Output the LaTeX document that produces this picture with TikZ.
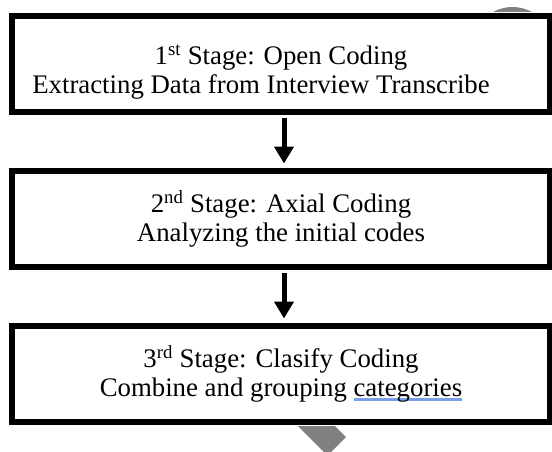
\documentclass[tikz,border=0pt]{standalone}
\usepackage{fontspec}
\setmainfont{Liberation Serif}
\usetikzlibrary{arrows.meta,positioning}
\definecolor{spellblue}{RGB}{120,160,230}
\newsavebox\markbox
\newcommand\spellmark[1]{\sbox\markbox{#1}\rlap{\textcolor{spellblue}{\rule[-5pt]{\wd\markbox}{3pt}}}\usebox\markbox}
\tikzstyle{stagebox} = [rectangle, minimum width=538pt, minimum height=96pt, align=center, draw=black, line width=6pt, fill=white, font=\fontsize{26.8}{29}\selectfont]

\begin{document}
\begin{tikzpicture}[x=1pt, y=-1pt, node distance=53pt]
    \tikzset{flowarrow/.style={line width=5pt, -{Triangle[width=19pt,length=17pt]}, shorten <=3pt, shorten >=4pt}}
    \useasboundingbox (0,0) rectangle (552,451);
    % grey shapes behind the boxes
    \begin{scope}
      \clip (480,0) rectangle (545,11);
      \fill[gray] (512.5,47) circle (40);
    \end{scope}
    \fill[gray] (298,426) -- (335,426) -- (346,437) -- (327.5,455.5) -- cycle;

    \node (stage1) [stagebox] at (281,63.5) {\rule{0pt}{36pt}1\textsuperscript{st} Stage: Open Coding\\Extracting Data from Interview Transcribe\hspace*{40pt}};
    \node (stage2) [stagebox, below=of stage1] {2\textsuperscript{nd} Stage: Axial Coding\\Analyzing the initial codes};
    \node (stage3) [stagebox, below=of stage2] {3\textsuperscript{rd} Stage: Clasify Coding\\Combine and grouping \spellmark{categories}};

    \draw[flowarrow] ([xshift=3pt]stage1.south) -- ([xshift=3pt]stage2.north);
    \draw[flowarrow] ([xshift=3pt]stage2.south) -- ([xshift=3pt]stage3.north);
\end{tikzpicture}
\end{document}
